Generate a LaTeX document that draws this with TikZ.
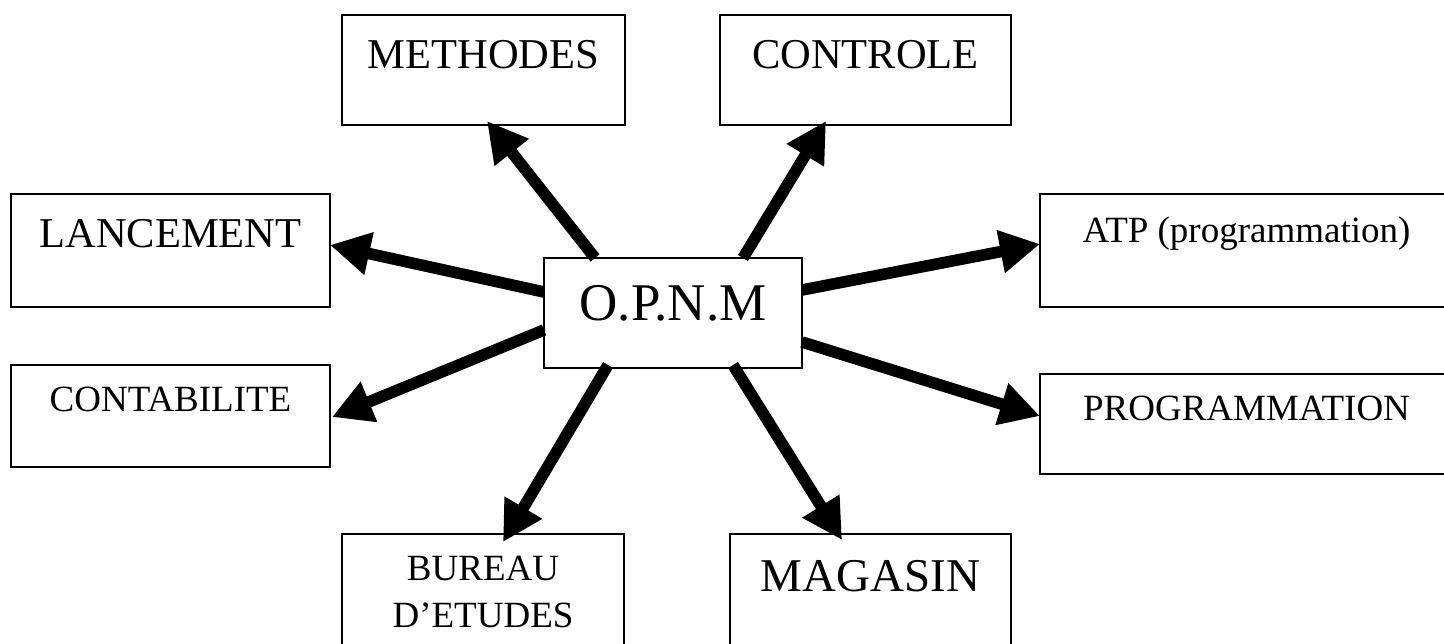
\documentclass[tikz,border=0pt]{standalone}
\usepackage{fontspec}
\setmainfont{Liberation Serif}
\usetikzlibrary{arrows.meta}
\tikzset{
  box/.style={draw=black, line width=0.7pt, fill=white, inner sep=0pt, outer sep=0pt, anchor=north west, align=center},
  arr/.style={line width=5.8pt, -{Triangle[length=20pt,width=20.5pt]}},
  fsmall/.style={font=\fontsize{18.5}{23.5}\selectfont},
  fmed/.style={font=\fontsize{21.25}{26}\selectfont},
  fmag/.style={font=\fontsize{23.5}{28}\selectfont},
  fbig/.style={font=\fontsize{26.5}{32}\selectfont}
}
\begin{document}
\begin{tikzpicture}[x=0.5pt,y=-0.5pt]
\useasboundingbox (0,0) rectangle (1444,643);
\clip (0,0) rectangle (1444,643);
\fill[white] (0,0) rectangle (1444,643);
% boxes (positions in px, sizes in pt = px/2)
\node[box, fmed, minimum width=141.5pt, text height=26.5pt, text depth=28.5pt] (meth) at (342,15) {METHODES};
\node[box, fmed, minimum width=145.5pt, text height=26.5pt, text depth=28.5pt] (ctrl) at (720,15) {CONTROLE};
\node[box, fmed, minimum width=159.5pt, text height=26.5pt, text depth=30pt] (lanc) at (11,194) {LANCEMENT};
\node[box, fsmall, minimum width=206.5pt, text height=24pt, text depth=32.5pt] (atp) at (1040,194) {ATP (programmation)};
\node[box, fsmall, minimum width=159.5pt, text height=23pt, text depth=28pt] (cont) at (11,365) {CONTABILITE};
\node[box, fsmall, minimum width=206.5pt, text height=23pt, text depth=27pt] (prog) at (1040,374) {PROGRAMMATION};
\node[box, fbig, minimum width=129pt, text height=31pt, text depth=24pt] (opnm) at (544,258) {O.P.N.M};
\node[box, fsmall, minimum width=141pt, text height=23pt, text depth=50pt] (bur) at (342,534) {\begin{tabular}[t]{@{}c@{}}BUREAU\\D’ETUDES\end{tabular}};
\node[box, fmag, minimum width=140.5pt, text height=28.5pt, text depth=44.5pt] (mag) at (730,534) {MAGASIN};
% connectors
\draw[arr] ([xshift=25.5pt]opnm.north west) -- ([xshift=72.5pt,yshift=2pt]meth.south west);
\draw[arr] ([xshift=99.5pt]opnm.north west) -- ([xshift=53pt,yshift=2pt]ctrl.south west);
\draw[arr] ([yshift=-17pt]opnm.north west) -- ([yshift=-25.5pt]lanc.north east);
\draw[arr] ([yshift=-36pt]opnm.north west) -- ([xshift=1pt,yshift=-26pt]cont.north east);
\draw[arr] ([yshift=-16pt]opnm.north east) -- ([yshift=-25pt]atp.north west);
\draw[arr] ([yshift=-42pt]opnm.north east) -- ([yshift=-21pt]prog.north west);
\draw[arr] ([xshift=32pt,yshift=1.5pt]opnm.south west) -- ([xshift=80.5pt,yshift=-4pt]bur.north west);
\draw[arr] ([xshift=94.5pt,yshift=1.5pt]opnm.south west) -- ([xshift=56pt,yshift=-3pt]mag.north west);
\end{tikzpicture}
\end{document}
